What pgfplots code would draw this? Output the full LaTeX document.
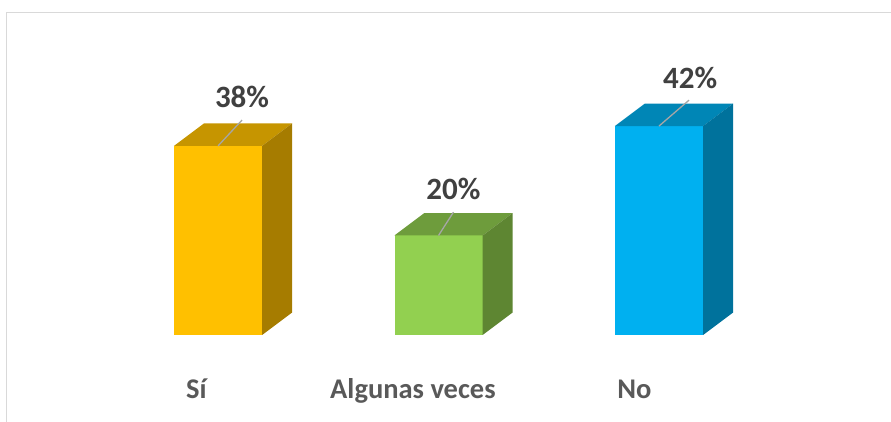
\documentclass[border=0pt]{standalone}
\usepackage{pgfplots}
\pgfplotsset{compat=1.18}
\usepackage{fontspec}
\setmainfont{Carlito}
\definecolor{yfront}{HTML}{FFC000}
\definecolor{ytop}{HTML}{C69500}
\definecolor{yside}{HTML}{A67C00}
\definecolor{gfront}{HTML}{92D050}
\definecolor{gtop}{HTML}{6E9C3C}
\definecolor{gside}{HTML}{5E8632}
\definecolor{bfront}{HTML}{00B0F0}
\definecolor{btop}{HTML}{0086B6}
\definecolor{bside}{HTML}{00729C}
\definecolor{framegray}{HTML}{D9D9D9}
\definecolor{lblgray}{HTML}{404040}
\definecolor{catgray}{HTML}{595959}
\definecolor{leader}{HTML}{A6A6A6}
\begin{document}
\begin{tikzpicture}
\draw[color=framegray, line width=1.5bp] (6.3bp,0bp) -- (6.3bp,409.7bp) -- (891bp,409.7bp);
\begin{axis}[
  at={(218bp,87bp)}, anchor=origin,
  scale only axis, x=220.5bp, y=4.975bp,
  xmin=-0.98, xmax=3.05, ymin=-17, ymax=67,
  hide axis, clip=false,
]
% front faces
\addplot[ybar, bar width=88bp, bar shift=0pt, fill=yfront, draw=none] coordinates {(0,38)};
\addplot[ybar, bar width=88bp, bar shift=0pt, fill=gfront, draw=none] coordinates {(1,20)};
\addplot[ybar, bar width=88bp, bar shift=0pt, fill=bfront, draw=none] coordinates {(2,42)};
% top faces
\addplot[fill=ytop, draw=none, mark=none] coordinates {(-0.2,38) (0.2,38) (0.336,42.52) (-0.064,42.52)} --cycle;
\addplot[fill=gtop, draw=none, mark=none] coordinates {(0.8,20) (1.2,20) (1.336,24.52) (0.936,24.52)} --cycle;
\addplot[fill=btop, draw=none, mark=none] coordinates {(1.8,42) (2.2,42) (2.336,46.52) (1.936,46.52)} --cycle;
% side faces
\addplot[fill=yside, draw=none, mark=none] coordinates {(0.2,0) (0.336,4.52) (0.336,42.52) (0.2,38)} --cycle;
\addplot[fill=gside, draw=none, mark=none] coordinates {(1.2,0) (1.336,4.52) (1.336,24.52) (1.2,20)} --cycle;
\addplot[fill=bside, draw=none, mark=none] coordinates {(2.2,0) (2.336,4.52) (2.336,46.52) (2.2,42)} --cycle;
% leader lines
\draw[leader, line width=1.3bp] (axis cs:0,38) -- (axis cs:0.109,43.2);
\draw[leader, line width=1.3bp] (axis cs:1,20) -- (axis cs:1.068,24.7);
\draw[leader, line width=1.3bp] (axis cs:2,42) -- (axis cs:2.136,47.2);
% data labels
\node[anchor=base, inner sep=0pt, text=lblgray, font=\fontsize{31bp}{36bp}\selectfont\bfseries] at (axis cs:0.109,45.8) {38\%};
\node[anchor=base, inner sep=0pt, text=lblgray, font=\fontsize{31bp}{36bp}\selectfont\bfseries] at (axis cs:1.068,27.3) {20\%};
\node[anchor=base, inner sep=0pt, text=lblgray, font=\fontsize{31bp}{36bp}\selectfont\bfseries] at (axis cs:2.141,49.6) {42\%};
% category labels
\node[anchor=base west, inner sep=0pt, text=catgray, font=\fontsize{28.5bp}{33bp}\selectfont\bfseries] at (axis cs:-0.145,-12.86) {Sí};
\node[anchor=base west, inner sep=0pt, text=catgray, font=\fontsize{28.5bp}{33bp}\selectfont\bfseries] at (axis cs:0.508,-12.86) {Algunas veces};
\node[anchor=base west, inner sep=0pt, text=catgray, font=\fontsize{28.5bp}{33bp}\selectfont\bfseries] at (axis cs:1.81,-12.86) {No};
\end{axis}
\pgfresetboundingbox
\path (0bp,0bp) rectangle (891bp,422bp);
\end{tikzpicture}
\end{document}
